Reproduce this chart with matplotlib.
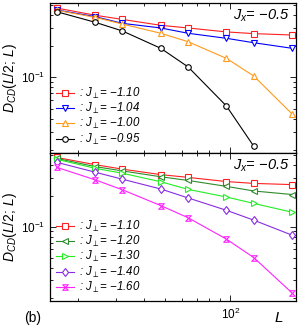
import numpy as np
import matplotlib
matplotlib.use('Agg')
import matplotlib.pyplot as plt
from matplotlib.path import Path
from matplotlib.ticker import LogLocator, NullFormatter

plt.rcParams['font.family'] = ['Liberation Sans', 'DejaVu Sans']
plt.rcParams['mathtext.fontset'] = 'custom'
plt.rcParams['mathtext.rm'] = 'Liberation Sans'
plt.rcParams['mathtext.it'] = 'Liberation Sans:italic'
plt.rcParams['mathtext.sf'] = 'Liberation Sans'
plt.rcParams['mathtext.fallback'] = 'cm'

# system sizes
L = [16, 24, 32, 48, 64, 96, 128, 192]

# top panel, J_x = -0.5
top_labels = ['-1.10', '-1.04', '-1.00', '-0.95']
top_red = [0.463, 0.395, 0.360, 0.316, 0.298, 0.273, 0.263, 0.255]
top_blue = [0.444, 0.383, 0.330, 0.298, 0.265, 0.237, 0.215, 0.190]
top_orange = [0.441, 0.377, 0.325, 0.265, 0.220, 0.152, 0.103, 0.0444]
top_black = [0.427, 0.338, 0.279, 0.190, 0.126, 0.053, 0.0218]

# bottom panel, J_x = -0.5
bot_labels = ['-1.10', '-1.20', '-1.30', '-1.40', '-1.60']
bot_red = [0.470, 0.400, 0.362, 0.320, 0.301, 0.274, 0.263, 0.256]
bot_dkgreen = [0.460, 0.383, 0.348, 0.305, 0.281, 0.246, 0.222, 0.205]
bot_green = [0.451, 0.369, 0.330, 0.273, 0.230, 0.194, 0.168, 0.138]
bot_purple = [0.422, 0.338, 0.289, 0.232, 0.190, 0.144, 0.1155, 0.0825]
bot_magenta = [0.377, 0.285, 0.228, 0.160, 0.122, 0.0755, 0.050, 0.0226]

hourglass = Path([(-1, 1), (1, 1), (-1, -1), (1, -1), (-1, 1)],
                 [Path.MOVETO, Path.LINETO, Path.LINETO, Path.LINETO, Path.CLOSEPOLY])

fig = plt.figure(figsize=(2.99, 3.30), dpi=100)
ax1 = fig.add_axes([0.167, 0.536, 0.823, 0.455])
ax2 = fig.add_axes([0.167, 0.0864, 0.823, 0.4496])

def lab(v):
    return r': $J_{\perp}$= ' + v.replace('-', '\u2212')

top_series = [(top_red, '#ff2020', 's'), (top_blue, '#0000ff', 'v'),
              (top_orange, '#ff9a1a', '^'), (top_black, 'black', 'o')]
for (vals, c, m), lb in zip(top_series, top_labels):
    ax1.plot(L[:len(vals)], vals, color=c, marker=m, ms=4, mfc='white', mec=c,
             mew=0.8, lw=0.8, label=lab(lb))

bot_series = [(bot_red, '#ff2020', 's', 4), (bot_dkgreen, '#2e8b2e', '<', 4),
              (bot_green, '#22ee22', '>', 4), (bot_purple, '#8a2be2', 'd', 4.5),
              (bot_magenta, '#ff22ff', hourglass, 4)]
for (vals, c, m, ms), lb in zip(bot_series, bot_labels):
    ax2.plot(L, vals, color=c, marker=m, ms=ms, mfc='white', mec=c,
             mew=0.8, lw=0.8, label=lab(lb))

for ax in (ax1, ax2):
    ax.set_xscale('log')
    ax.set_yscale('log')
    ax.set_xlim(14.9, 200)
    ax.set_ylim(0.0187, 0.518)
    ax.tick_params(which='both', direction='in', top=True, right=True, labelsize=8.5)
    ax.tick_params(which='major', length=4, width=0.6)
    ax.tick_params(which='minor', length=2, width=0.6)
    ax.yaxis.set_minor_locator(LogLocator(base=10, subs=np.arange(2, 10)))
    ax.xaxis.set_minor_locator(LogLocator(base=10, subs=np.arange(2, 10)))
    ax.yaxis.set_minor_formatter(NullFormatter())
    ax.xaxis.set_minor_formatter(NullFormatter())
    ax.set_ylabel(r'$D_{CD}(L/2;\, L)$', fontsize=10, labelpad=1)
    ax.text(0.975, 0.915, '$J_{x}$= \u22120.5',
            transform=ax.transAxes, ha='right', va='center', fontsize=10.5,
            style='italic')
    for s in ax.spines.values():
        s.set_linewidth(0.9)
    ax.legend(loc='lower left', bbox_to_anchor=(0.0, 0.0), frameon=False,
              handlelength=1.5, handletextpad=0.5,
              labelspacing=0.02, borderaxespad=0.15,
              prop={'family': 'Liberation Sans', 'style': 'italic', 'size': 8.3})

ax1.tick_params(labelbottom=False)

fig.text(0.11, 0.036, '(b)', fontsize=10, ha='center', va='center')
fig.text(0.933, 0.036, r'$L$', fontsize=11, ha='center', va='center')

fig.savefig('out.png', dpi=100)
